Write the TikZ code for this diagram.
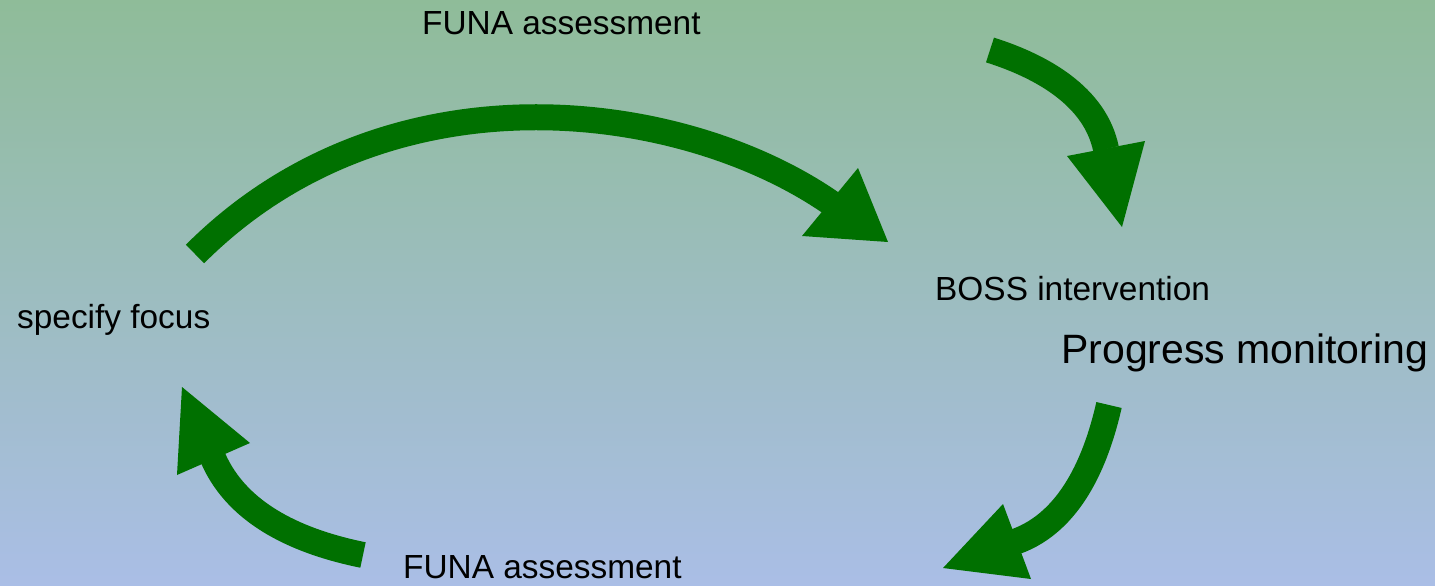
\documentclass[tikz,border=0pt]{standalone}
\usepackage{fontspec}
\setmainfont{Liberation Sans}
\definecolor{bgtop}{RGB}{143,188,153}
\definecolor{bgbottom}{RGB}{170,190,230}
\definecolor{arrowgreen}{RGB}{0,112,0}
\tikzset{
  label text/.style={anchor=base west, inner sep=0pt, font=\fontsize{33.4}{40}\selectfont},
  big text/.style={anchor=base west, inner sep=0pt, font=\fontsize{41}{48}\selectfont},
  shaft/.style={draw=arrowgreen, line width=26pt, line cap=butt},
  head/.style={fill=arrowgreen},
}
\begin{document}
\begin{tikzpicture}[x=1pt, y=-1pt]
  % background
  \fill[top color=bgtop, bottom color=bgbottom] (0,0) rectangle (1435,586);
  \useasboundingbox (0,0) rectangle (1435,586);

  % labels
  \node[label text] (funatop) at (422,35) {FUNA assessment};
  \node[label text] (boss) at (935,300) {BOSS intervention};
  \node[big text] (progress) at (1061,363) {Progress monitoring};
  \node[label text] (focus) at (17,328) {specify focus};
  \node[label text] (funabottom) at (403,578) {FUNA assessment};

  % large arrow: specify focus -> BOSS intervention
  \coordinate (a1s) at (195,254);
  \coordinate (a1e) at (831,203);
  \draw[shaft] (a1s) .. controls (389.4,59.6) and (683.5,100.8) .. (a1e);
  \fill[head] (802,236) -- (858,168) -- (888,242) -- cycle;

  % top right arrow
  \coordinate (a2s) at (990,50);
  \coordinate (a2e) at (1106,149);
  \draw[shaft] (a2s) .. controls (1041.3,66.2) and (1095.2,96.1) .. (a2e);
  \fill[head] (1067,156) -- (1145,141) -- (1122,227) -- cycle;

  % bottom right arrow
  \coordinate (a3s) at (1109,405);
  \coordinate (a3e) at (1016,541.5);
  \draw[shaft] (a3s) .. controls (1096.2,461.3) and (1070.5,521.8) .. (a3e);
  \fill[head] (1003,504) -- (1031,579) -- (943,568) -- cycle;

  % bottom left arrow
  \coordinate (a4s) at (363,555);
  \coordinate (a4e) at (213,458);
  \draw[shaft] (a4s) .. controls (301.3,542.4) and (238.2,516) .. (a4e);
  \fill[head] (250,443) -- (177,475) -- (182,387) -- cycle;
\end{tikzpicture}
\end{document}
